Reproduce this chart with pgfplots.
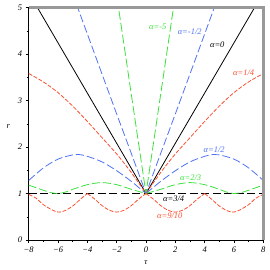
\documentclass[border=0pt]{standalone}
\usepackage{pgfplots}
\pgfplotsset{compat=1.18}
\usepackage{fontspec}
\setmainfont{Liberation Serif}
\definecolor{cred}{RGB}{250,80,50}
\definecolor{cblue}{RGB}{80,115,245}
\definecolor{cgreen}{RGB}{60,225,60}
\newcommand{\lf}{\fontsize{8.5}{10}\selectfont\itshape}
\begin{document}
\begin{tikzpicture}
\begin{axis}[
 scale only axis, width=234.6bp, height=232.5bp,
 xmin=-8,xmax=8,ymin=0,ymax=5,
 axis x line*=bottom, axis y line*=left,
 axis line style={-,black,line width=0.7bp},
 xtick={-8,-6,...,8}, xticklabels={\textit{−8},\textit{−6},\textit{−4},\textit{−2},\textit{0},\textit{2},\textit{4},\textit{6},\textit{8}},
 minor xtick={-7,-5,...,7},
 ytick={0,...,5}, yticklabels={\textit{0},\textit{1},\textit{2},\textit{3},\textit{4},\textit{5}},
 minor ytick={0.5,1.5,...,4.5},
 tick align=outside, major tick length=3bp, minor tick length=2bp,
 tick style={black, line width=0.5bp},
 ticklabel style={font=\lf},
 xlabel={τ}, ylabel={\textit{r}},
 every axis x label/.style={at={(axis description cs:0.5,0)},yshift=-23bp,anchor=center,font=\lf},
 every axis y label/.style={at={(axis description cs:0,0.49)},xshift=-20.4bp,anchor=center,font=\lf},
]
% alpha = 3/4
\addplot[black, line width=0.8bp, dash pattern=on 8bp off 3.5bp] coordinates {(-8,1) (8,1)};
% alpha = 0
\addplot[black, line width=0.8bp] coordinates {(-8,5.32) (0,1) (8,5.32)};
% alpha = -1/2
\addplot[cblue, line width=0.8bp, dash pattern=on 8bp off 3bp] coordinates {(-5,5.29) (-4,4.43) (-3,3.57) (-2,2.71) (-1,1.86) (0,1) (1,1.86) (2,2.71) (3,3.57) (4,4.43) (5,5.29)};
% alpha = -5
\addplot[cgreen, line width=0.8bp, dash pattern=on 9bp off 3bp] coordinates {(-2.2,5.69) (-1,3.13) (0,1) (1,3.13) (2.2,5.69)};
% alpha = 1/4
\addplot[cred, line width=0.8bp, smooth, dash pattern=on 4bp off 1.6bp] coordinates {(-8,3.58) (-7,3.40) (-6,3.17) (-5,2.88) (-4,2.55) (-3,2.20) (-2,1.85) (-1,1.45) (0,1)};
\addplot[cred, line width=0.8bp, smooth, dash pattern=on 4bp off 1.6bp] coordinates {(0,1) (1,1.45) (2,1.85) (3,2.20) (4,2.55) (5,2.88) (6,3.17) (7,3.40) (8,3.58)};
% alpha = 1/2
\addplot[cblue, line width=0.8bp, smooth, dash pattern=on 8bp off 3bp] coordinates {(-8,1.28) (-7,1.55) (-6,1.74) (-5,1.83) (-4.6,1.84) (-4,1.80) (-3,1.68) (-2,1.49) (-1,1.26) (0,1)};
\addplot[cblue, line width=0.8bp, smooth, dash pattern=on 8bp off 3bp] coordinates {(0,1) (1,1.26) (2,1.49) (3,1.68) (4,1.80) (4.6,1.84) (5,1.83) (6,1.74) (7,1.55) (8,1.28)};
% alpha = 2/3
\addplot[cgreen, line width=0.8bp, smooth, dash pattern=on 8bp off 3bp] coordinates {(-8,1.18) (-7,1.07) (-6.5,1.02) (-6,1.0) (-5.5,1.03) (-5,1.09) (-4,1.19) (-3,1.235) (-2,1.19) (-1,1.09) (0,1)};
\addplot[cgreen, line width=0.8bp, smooth, dash pattern=on 8bp off 3bp] coordinates {(0,1) (1,1.09) (2,1.19) (3,1.235) (4,1.19) (5,1.09) (5.5,1.03) (6,1.0) (6.5,1.02) (7,1.07) (8,1.18)};
% alpha = 9/10
\addplot[cred, line width=0.8bp, smooth, dash pattern=on 4bp off 1.6bp] coordinates {(-8,0.98) (-7.5,0.9) (-7,0.76) (-6.3,0.63) (-5.9,0.6) (-5.5,0.635) (-5,0.73) (-4.5,0.87) (-4,1)};
\addplot[cred, line width=0.8bp, smooth, dash pattern=on 4bp off 1.6bp] coordinates {(-4,1) (-3.5,0.88) (-3,0.74) (-2.5,0.64) (-2,0.6) (-1.5,0.64) (-1,0.74) (-0.5,0.88) (0,1)};
\addplot[cred, line width=0.8bp, smooth, dash pattern=on 4bp off 1.6bp] coordinates {(0,1) (0.5,0.88) (1,0.74) (1.5,0.64) (2,0.6) (2.5,0.64) (3,0.74) (3.5,0.88) (4,1)};
\addplot[cred, line width=0.8bp, smooth, dash pattern=on 4bp off 1.6bp] coordinates {(4,1) (4.5,0.87) (5,0.73) (5.5,0.635) (5.9,0.6) (6.3,0.63) (7,0.76) (7.5,0.9) (8,0.98)};
% labels
\node[cgreen, font=\lf] at (axis cs:0.8,4.59) {α=-5};
\node[cblue, font=\lf] at (axis cs:2.98,4.47) {α=-1/2};
\node[black, font=\lf] at (axis cs:4.86,4.19) {α=0};
\node[cred, font=\lf] at (axis cs:6.66,3.59) {α=1/4};
\node[cblue, font=\lf] at (axis cs:4.65,1.95) {α=1/2};
\node[cgreen, font=\lf] at (axis cs:3.05,1.34) {α=2/3};
\node[black, font=\lf] at (axis cs:1.89,0.89) {α=3/4};
\node[cred, font=\lf] at (axis cs:1.62,0.53) {α=9/10};
\end{axis}
\draw[gray!80, line width=2.5bp] (current axis.north west) -- (current axis.north east) -- (current axis.south east);
\pgfresetboundingbox
\path[use as bounding box] ([shift={(-28.7bp,-30bp)}]current axis.south west) rectangle ([shift={(6.7bp,7.5bp)}]current axis.north east);
\end{tikzpicture}
\end{document}
